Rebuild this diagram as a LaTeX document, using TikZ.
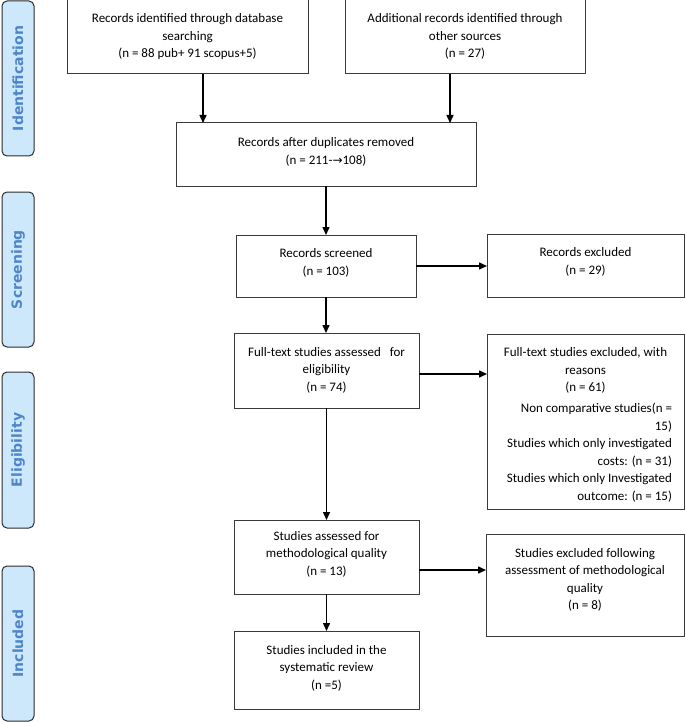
\documentclass[tikz,border=0pt]{standalone}
\usepackage{fontspec}
\setmainfont{Carlito}
\newfontfamily\djv{DejaVu Sans}
\usetikzlibrary{arrows.meta}
\definecolor{lblfill}{HTML}{CDE8FB}
\definecolor{lbltext}{HTML}{4F86C8}
\definecolor{lblline}{HTML}{2B2B2B}
\definecolor{boxline}{HTML}{3A3A3A}
\newcommand\bxt[4]{\parbox[c][#2][t]{#1}{\centering\vspace*{#3}\strut#4\par}}
\begin{document}
\begin{tikzpicture}[x=1pt,y=1pt,
 every node/.style={font=\fontsize{13}{17.5}\selectfont},
 box/.style={draw=boxline, line width=1pt, inner sep=0pt, outer sep=0pt},
 lbl/.style={draw=lblline, fill=lblfill, line width=1pt, rounded corners=5pt, inner sep=0pt,
   rotate=90, minimum height=32pt, text=lbltext, font=\djv\bfseries\fontsize{14}{16}\selectfont},
 arr/.style={-{Triangle[length=8pt,width=7pt]}, line width=1.5pt, draw=black}]
\useasboundingbox (0,0) rectangle (685,-722);
% stage labels
\node[lbl, minimum width=155pt] (lI) at (18,-78.5) {Identification};
\node[lbl, minimum width=155pt] (lS) at (18,-269.5) {Screening};
\node[lbl, minimum width=156pt] (lE) at (18,-450) {Eligibility};
\node[lbl, minimum width=155pt] (lN) at (18,-643.5) {Included};
% boxes
\node[box] (b1) at (187.5,-37) {\bxt{241pt}{74pt}{10.5pt}{Records identified through database\\searching\\(n = 88 pub+ 91 scopus+5)}};
\node[box] (b2) at (465,-37) {\bxt{240pt}{74pt}{10.5pt}{Additional records identified through\\other sources\\(n = 27)}};
\node[box] (b3) at (326,-154.5) {\bxt{300pt}{63pt}{11.5pt}{Records after duplicates removed\\(n = 211-{\djv\fontsize{12}{12}\selectfont →}108)}};
\node[box] (b4) at (326,-266) {\bxt{180pt}{62pt}{10.5pt}{Records screened\\(n = 103)}};
\node[box] (b5) at (585.5,-265.5) {\bxt{197pt}{63pt}{10.5pt}{Records excluded\\(n = 29)}};
\node[box] (b6) at (326.5,-370.5) {\bxt{185pt}{75pt}{11pt}{Full-text studies assessed\ \ \ for\\eligibility\\(n = 74)}};
\node[box] (b7) at (585.5,-421.5) {\parbox[c][175pt][t]{197pt}{\centering\vspace*{10.5pt}\strut Full-text studies excluded, with\\reasons\\(n = 61)\par\vspace{3.5pt}\raggedleft\rightskip=12pt Non comparative studies(n =\\15)\\Studies which only investigated\\costs: (n = 31)\\Studies which only Investigated\\outcome: (n = 15)\par}};
\node[box] (b8) at (326.5,-557) {\bxt{185pt}{74pt}{8pt}{Studies assessed for\\methodological quality\\(n = 13)}};
\node[box] (b9) at (585,-585) {\bxt{198pt}{102pt}{11pt}{Studies excluded following\\assessment of methodological\\quality\\(n = 8)}};
\node[box] (b10) at (326.5,-670) {\bxt{185pt}{78pt}{11pt}{Studies included in the\\systematic review\\(n =5)}};
% connectors
\draw[arr] ([xshift=15.5pt]b1.south) -- ([xshift=15.5pt]b1.south |- b3.north);
\draw[arr] ([xshift=-15pt]b2.south) -- ([xshift=-15pt]b2.south |- b3.north);
\draw[arr] (b3.south) -- (b3.south |- b4.north);
\draw[arr] (b4.east) -- (b4.east -| b5.west);
\draw[arr] (b4.south) -- (b4.south |- b6.north);
\draw[arr] ([yshift=-3.5pt]b6.east) -- ([yshift=-3.5pt]b6.east -| b7.west);
\draw[arr] (b6.south) -- (b6.south |- b8.north);
\draw[arr] ([yshift=-13pt]b8.east) -- ([yshift=-13pt]b8.east -| b9.west);
\draw[arr] (b8.south) -- (b8.south |- b10.north);
\end{tikzpicture}
\end{document}
